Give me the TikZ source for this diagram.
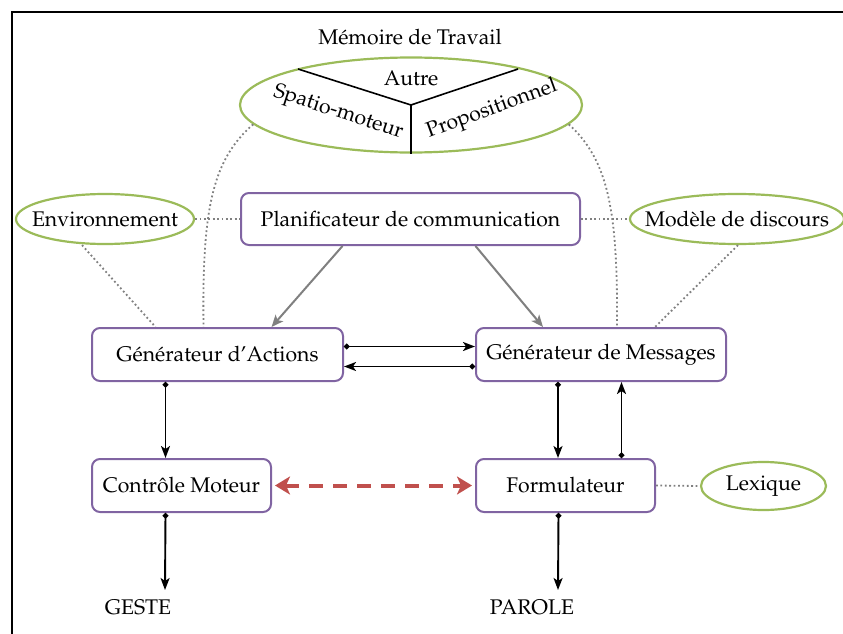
\documentclass[tikz,border=0pt]{standalone}
\usepackage[T1]{fontenc}
\usepackage{mathpazo}
\usetikzlibrary{arrows.meta,shapes.geometric,calc}
\definecolor{boxviolet}{RGB}{128,100,162}
\definecolor{ellgreen}{RGB}{155,187,89}
\definecolor{arrred}{RGB}{192,80,77}
\definecolor{dotgray}{RGB}{128,128,128}
\begin{document}
\begin{tikzpicture}[x=1pt,y=-1pt,
  font=\fontsize{21.2}{25}\selectfont,
  procbox/.style={draw=boxviolet,line width=2pt,rounded corners=8pt,inner sep=0pt},
  greenell/.style={draw=ellgreen,ellipse,line width=2.2pt,inner sep=0pt},
  dotline/.style={dotgray,line width=1.8pt,dash pattern=on 1.8pt off 2.6pt},
  flow/.style={black,line width=1.9pt,{Circle[length=5.5pt]}-{Stealth[length=12pt,width=9pt,inset=3pt]}},
  grayflow/.style={dotgray,line width=2pt,-{Stealth[length=12pt,width=10pt,inset=3pt]}},
  plain/.style={inner sep=0pt}]
\useasboundingbox (0,0) rectangle (843,634);
% frame
\draw[line width=2.5pt] (843,12) -- (12,12) -- (12,634);

% working memory
\node[plain] (wmt) at (410,37) {Mémoire de Travail};
\node[greenell,minimum width=342pt,minimum height=95pt] (wm) at (411,105) {};
\coordinate (wmc) at (411,105);
\draw[line width=1.6pt] (wmc) -- (298,69);
\draw[line width=1.6pt] (wmc) -- (518,69);
\draw[line width=1.6pt] (wmc) -- (wm.south);
\node[plain] (autre) at (411,78) {Autre};
\node[plain,rotate=-18] (spm) at (338,113) {Spatio-moteur};
\node[plain,rotate=20] (prop) at (492,110) {Propositionnel};

% nodes
\node[greenell,minimum width=178pt,minimum height=50pt] (env) at (105,219) {\makebox[0pt]{Environnement}};
\node[procbox,minimum width=339pt,minimum height=52pt] (pl) at (410.5,219) {Planificateur de communication};
\node[greenell,minimum width=214pt,minimum height=50pt] (mod) at (737,219) {\makebox[0pt]{Modèle de discours}};
\node[procbox,minimum width=251pt,minimum height=53pt] (ga) at (217.5,354.5) {Générateur d'Actions};
\node[procbox,minimum width=250pt,minimum height=53pt] (gm) at (601,354.5) {Générateur de Messages};
\node[procbox,minimum width=179pt,minimum height=53pt] (cm) at (181.5,485.5) {Contrôle Moteur};
\node[procbox,minimum width=179pt,minimum height=53pt] (fo) at (565.5,485.5) {Formulateur};
\node[greenell,minimum width=125pt,minimum height=48pt] (lex) at (763.5,486) {\makebox[0pt]{Lexique}};
\node[plain] (geste) at (138,607) {GESTE};
\node[plain] (parole) at (532,607) {PAROLE};
\coordinate (gesteend) at (165,590);
\coordinate (paroleend) at (558,590);

% dotted links
\draw[dotline] (env.east) -- (pl.west);
\draw[dotline] (pl.east) -- (mod.west);
\draw[dotline] (fo.east) -- (lex.west);
\draw[dotline] ([xshift=-23pt]env.south) -- ([xshift=-62pt]ga.north);
\draw[dotline] ([xshift=1pt]mod.south) -- ([xshift=54pt]gm.north);
\draw[dotline] (wm.187) .. controls (212,160) and (202,210) .. ([xshift=-14pt]ga.north);
\draw[dotline] (wm.-7) .. controls (608,160) and (618,210) .. ([xshift=16pt]gm.north);

% gray arrows
\draw[grayflow] ([xshift=-68pt]pl.south) -- ([xshift=54pt]ga.north);
\draw[grayflow] ([xshift=65pt]pl.south) -- ([xshift=-58pt]gm.north);

% black arrows
\draw[flow] ([yshift=8pt]ga.east) -- ([yshift=8pt]ga.east -| gm.west);
\draw[flow] ([yshift=-12pt]gm.west) -- ([yshift=-12pt]gm.west -| ga.east);
\draw[flow] ([xshift=-52pt]ga.south) -- ([xshift=-52pt]ga.south |- cm.north);
\draw[flow] ([xshift=-43pt]gm.south) -- ([xshift=-43pt]gm.south |- fo.north);
\draw[flow] ([xshift=56pt]fo.north) -- ([xshift=56pt]fo.north |- gm.south);
\draw[flow] ([xshift=-16pt]cm.south) -- (gesteend);
\draw[flow] ([xshift=-7pt]fo.south) -- (paroleend);

% red dashed
\draw[arrred,line width=4pt,dash pattern=on 14pt off 10pt,
  {Stealth[length=15pt,width=18pt,inset=4pt]}-{Stealth[length=15pt,width=18pt,inset=4pt]}]
  ([xshift=3pt]cm.east) -- ([xshift=-3pt]fo.west);
\end{tikzpicture}
\end{document}
